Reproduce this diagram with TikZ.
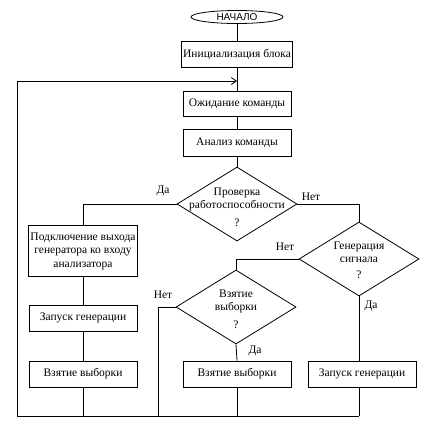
\documentclass[tikz,border=0pt]{standalone}
\usepackage{fontspec}
\setmainfont{Liberation Serif}
\newfontfamily\headfont{Liberation Sans}
\usetikzlibrary{positioning, arrows.meta, shapes.geometric, calc}

\begin{document}
\begin{tikzpicture}[x=1pt, y=-1pt, line width=0.8pt]
		\tikzset{
			>={Straight Barb[length=5pt, width=7pt]},
			every node/.style={font=\fontsize{11.5}{13.5}\selectfont},
			box/.style={draw, align=center, minimum width=108pt, minimum height=26pt, inner sep=2pt},
			startbox/.style={draw, ellipse, minimum width=92pt, minimum height=13pt, inner sep=0pt, font=\headfont\fontsize{10}{12}\selectfont},
			decision/.style={draw, diamond, minimum width=120pt, minimum height=74pt, inner sep=0pt},
			decisiontext/.style={align=center, inner sep=0pt},
			answer/.style={inner sep=0pt}
		}
		\useasboundingbox (0,0) rectangle (441,429);
		
		% Main column
		\node[startbox] (start) at (237,17) {НАЧАЛО};
		\node[box] (init) at (237,54) {Инициализация блока};
		\node[box, minimum height=25pt] (wait) at (237,104) {Ожидание команды};
		\node[box, minimum height=27pt] (anal) at (237,143) {Анализ команды};
		
		% First check
		\node[decision] (check) at (237,204) {};
		\node[decisiontext] at ($(check)+(0,3)$) {Проверка\\работоспособности\\[4pt]?};
		
		% Left branch
		\node[box, minimum height=51pt] (connect) at (83,251) {Подключение выхода\\генератора ко входу\\анализатора};
		\node[box] (runleft) at (83,318) {Запуск генерации};
		\node[box] (takeleft) at (83,374) {Взятие выборки};
		
		% Right branch
		\node[decision] (gen) at (359,259) {};
		\node[decisiontext] at ($(gen)+(0,1)$) {Генерация\\сигнала\\[2pt]?};
		\node[decision] (sample) at (236,307) {};
		\node[decisiontext] at ($(sample)+(0,2)$) {Взятие\\выборки\\[4pt]?};
		\node[box] (takemid) at (237,374) {Взятие выборки};
		\node[box] (runright) at (362,374) {Запуск генерации};
		
		% Loop points
		\coordinate (entry) at (237,81);
		\coordinate (bl) at (17,416);
		\coordinate (br) at ($(gen.south |- bl)$);
		\coordinate (bnet) at (158,416);
		
		% Draw connectors
		\draw (start) -- (init);
		\draw (init) -- (wait);
		\draw (wait) -- (anal);
		\draw (anal) -- (check);
		
		\draw (check.west) -| (connect.north);
		\draw (connect) -- (runleft);
		\draw (runleft) -- (takeleft);
		\draw (takeleft) -- (takeleft |- bl);
		
		\draw (check.east) -| (gen.north);
		\draw (gen.west) -| (sample.north);
		\draw (sample.west) -| (bnet);
		\draw (sample.south) -- (takemid.north);
		\draw (takemid) -- (takemid |- bl);
		\draw (gen.south) -- (gen.south |- runright.north);
		\draw (runright.south -| gen.south) -- (br);
		
		\draw[->] (br) -- (bl) |- (entry);
		
		% Answers
		\node[answer] at (163,191) {Да};
		\node[answer] at (311,197) {Нет};
		\node[answer] at (285,247) {Нет};
		\node[answer] at (163,295) {Нет};
		\node[answer] at (255,351) {Да};
		\node[answer] at (371,306) {Да};
		
	\end{tikzpicture}
\end{document}
